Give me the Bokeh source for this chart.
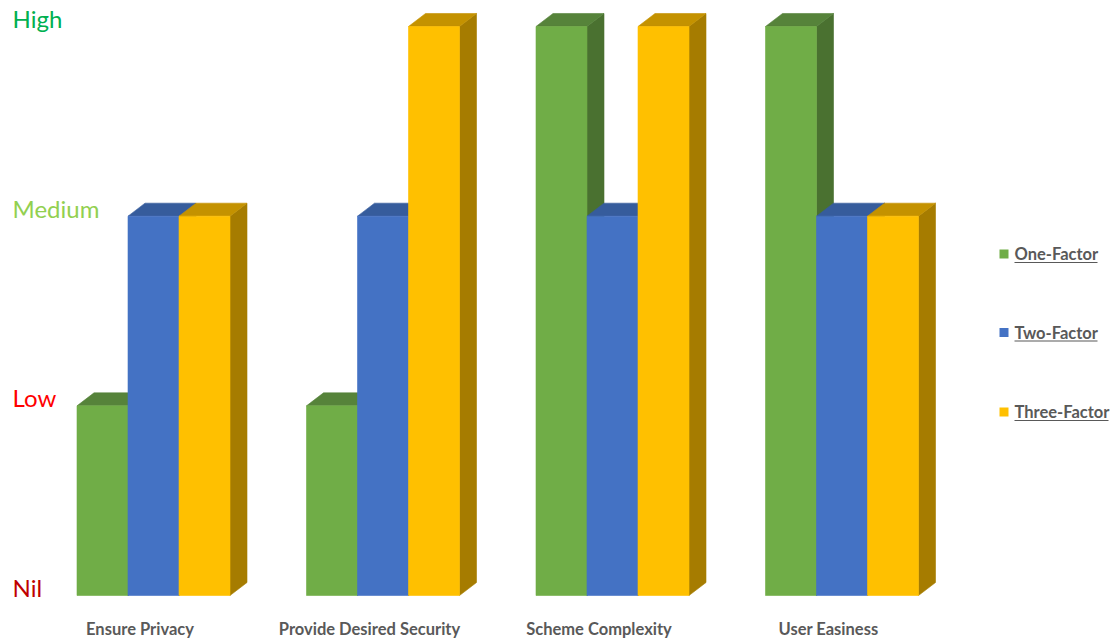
from bokeh.plotting import figure
from bokeh.models import Range1d, Label, BoxAnnotation, ColumnDataSource
from bokeh.embed import file_html
from bokeh.resources import INLINE

# ---- data -------------------------------------------------------------
categories = ["Ensure Privacy", "Provide Desired Security", "Scheme Complexity", "User Easiness"]
series_names = ["One-Factor", "Two-Factor", "Three-Factor"]
one_factor = [1, 1, 3, 3]
two_factor = [2, 2, 2, 2]
three_factor = [2, 3, 3, 2]
level_labels = ["Nil", "Low", "Medium", "High"]
level_values = [0, 1, 2, 3]
level_colors = ["#C00000", "#FF0000", "#92D050", "#00B050"]

series_values = [one_factor, two_factor, three_factor]
# front / top / side shades of each series
front_colors = ["#70AD47", "#4472C4", "#FFC000"]
top_colors = ["#56833A", "#365C9C", "#C49200"]
side_colors = ["#4A7130", "#2E4F86", "#A67C00"]

# ---- canvas geometry --------------------------------------------------
W, H = 1116, 644
PX_PER_GROUP = 229.5
FIRST_CENTER_PX = 153.0
PX_PER_LEVEL = 189.67
BASE_PX = 595.0          # distance of the zero level from the top
DEPTH_X_PX, DEPTH_Y_PX = 17.0, 13.0

x_start = -FIRST_CENTER_PX / PX_PER_GROUP
x_end = x_start + W / PX_PER_GROUP
y_start = -(H - BASE_PX) / PX_PER_LEVEL
y_end = y_start + H / PX_PER_LEVEL

bar_w = 51.0 / PX_PER_GROUP
dx = DEPTH_X_PX / PX_PER_GROUP
dy = DEPTH_Y_PX / PX_PER_LEVEL

p = figure(width=W, height=H, output_backend="svg", toolbar_location=None,
           x_range=Range1d(x_start, x_end), y_range=Range1d(y_start, y_end),
           x_axis_location=None, y_axis_location=None, min_border=0)
p.grid.visible = False
p.outline_line_color = None
p.background_fill_color = "white"
p.border_fill_color = "white"

# ---- 3D bars, painted back-to-front inside each group ------------------
xs, ys, colors = [], [], []
for i in range(len(categories)):
    for k, vals in enumerate(series_values):
        v = vals[i]
        left = i + (k - 1.5) * bar_w
        right = left + bar_w
        # side face
        xs.append([right, right + dx, right + dx, right])
        ys.append([0, dy, v + dy, v])
        colors.append(side_colors[k])
        # top face
        xs.append([left, right, right + dx, left + dx])
        ys.append([v, v, v + dy, v + dy])
        colors.append(top_colors[k])
        # front face
        xs.append([left, right, right, left])
        ys.append([0, 0, v, v])
        colors.append(front_colors[k])

src = ColumnDataSource(dict(xs=xs, ys=ys, color=colors))
p.patches("xs", "ys", source=src, fill_color="color", line_color="color", line_width=0.6)

# ---- level labels on the left -----------------------------------------
for lab, lv, col in zip(level_labels, level_values, level_colors):
    p.add_layout(Label(x=12, x_units="screen", y=lv, y_offset=8, text=lab,
                       text_font="Lato", text_font_size="24px", text_color=col,
                       text_baseline="middle", text_align="left"))

# ---- category labels under the groups ----------------------------------
cat_shift = -13.5 / PX_PER_GROUP
for i, cat in enumerate(categories):
    p.add_layout(Label(x=i + cat_shift, y=H - 628, y_units="screen", text=cat,
                       text_font="Lato", text_font_style="bold", text_font_size="16.5px",
                       text_color="#595959", text_align="center", text_baseline="middle"))

# ---- legend -------------------------------------------------------------
legend_rows_px = [253.5, 332.0, 411.5]
legend_text_w = [83, 83, 94]
for name, col, row, tw in zip(series_names, front_colors, legend_rows_px, legend_text_w):
    yb = H - row
    p.add_layout(BoxAnnotation(left=999, right=1008, bottom=yb - 4.5, top=yb + 4.5,
                               left_units="screen", right_units="screen",
                               bottom_units="screen", top_units="screen",
                               fill_color=col, fill_alpha=1, line_color=None))
    p.add_layout(Label(x=1014, x_units="screen", y=yb, y_units="screen", text=name,
                       text_font="Lato", text_font_style="bold", text_font_size="16.5px",
                       text_color="#595959", text_baseline="middle", text_align="left"))
    p.add_layout(BoxAnnotation(left=1014, right=1014 + tw, bottom=yb - 9, top=yb - 8,
                               left_units="screen", right_units="screen",
                               bottom_units="screen", top_units="screen",
                               fill_color="#595959", fill_alpha=1, line_color=None))

open("out.html", "w").write(file_html(p, INLINE))
